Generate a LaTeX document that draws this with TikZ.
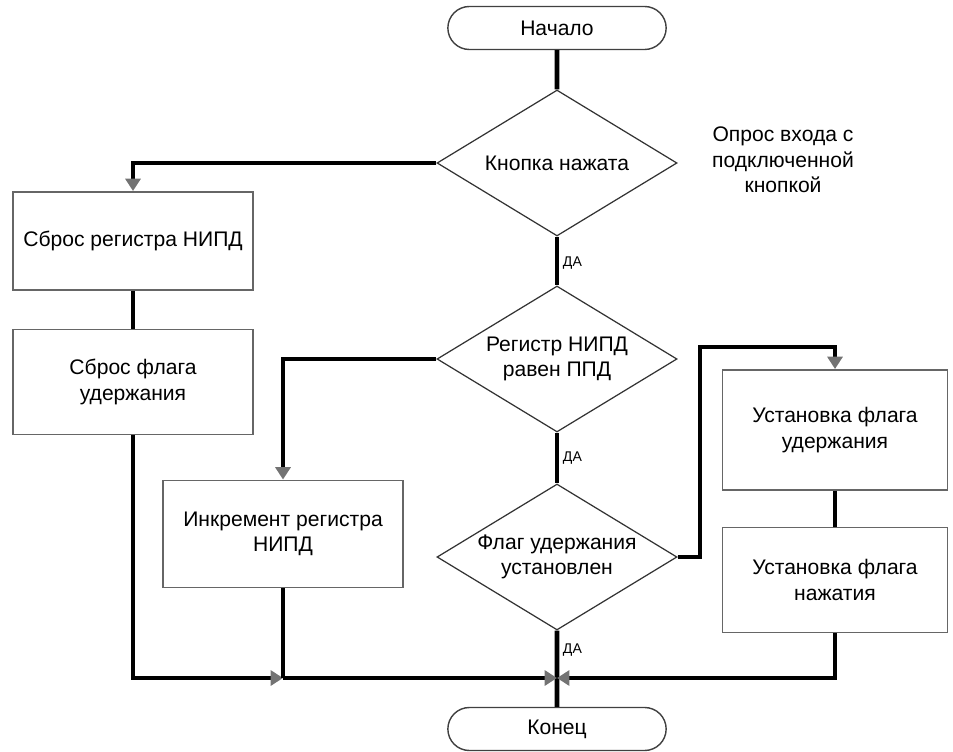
\documentclass[tikz,border=0pt]{standalone}
\usepackage{fontspec}
\setmainfont{Liberation Sans}
\usetikzlibrary{shapes.geometric,shapes.misc,arrows.meta}

\begin{document}
\begin{tikzpicture}[x=0.2mm,y=-0.2mm,
    every node/.style={font=\fontsize{12}{14.5}\selectfont, align=center},
    terminal/.style={draw=black!75, line width=0.8pt, rounded rectangle,
        minimum width=46mm, minimum height=8.6mm},
    bloc/.style={draw=black!60, line width=1.1pt, minimum width=48mm, minimum height=19.6mm},
    test/.style={draw=black!80, line width=0.7pt, diamond, aspect=1.64, inner sep=0pt,
        minimum width=48mm, minimum height=29.2mm},
    lien/.style={line width=2.8pt},
    fleche/.style={lien, -{Triangle[length=7pt,width=8.5pt,color=black!55]}},
    oui/.style={right, font=\fontsize{8}{9.6}\selectfont, inner sep=2pt}]

    % cadre en pixels : 953 x 752
    \useasboundingbox (0,0) rectangle (953,752);

    % colonne centrale
    \node[terminal] (debut) at (557,28) {Начало};
    \node[test] (t1) at (557,163) {Кнопка нажата};
    \node[test] (t2) at (557,359) {Регистр НИПД\\равен ППД};
    \node[test] (t3) at (557,557) {Флаг удержания\\установлен};
    \node[terminal] (fin) at (557,729) {Конец};

    % blocs de gauche
    \node[bloc] (b1) at (133,241) {Сброс регистра НИПД};
    \node[bloc, minimum height=21mm] (b2) at (133,382) {Сброс флага\\удержания};
    \node[bloc, minimum height=21.4mm] (b3) at (283,534) {Инкремент регистра\\НИПД};

    % blocs de droite
    \node[bloc, minimum width=45mm, minimum height=24mm] (b4) at (835,430) {Установка флага\\удержания};
    \node[bloc, minimum width=45mm, minimum height=21mm] (b5) at (835,580) {Установка флага\\нажатия};

    \node (note) at (783,160) {Опрос входа с\\подключенной\\кнопкой};

    \coordinate (coude) at (700,347);
    \coordinate (jonction) at (557,678);
    \coordinate (j3) at (283,678);

    % liaisons
    \draw[lien] (debut) -- (t1);
    \draw[lien] (t1) -- node[oui,pos=0.55] {ДА} (t2);
    \draw[lien] (t2) -- node[oui] {ДА} (t3);
    \draw[lien] (t3) -- node[oui,pos=0.25] {ДА} (fin);

    \draw[fleche] (t1.west) -| (b1.north);
    \draw[lien] (b1) -- (b2);
    \draw[fleche] (t2.west) -| (b3.north);
    \draw[fleche] (t3.east) -| (coude) -| (b4.north);
    \draw[lien] (b4) -- (b5);

    % retour vers la fin
    \draw[fleche] (b2.south) |- (j3);
    \draw[lien] (b3.south) -- (j3);
    \draw[fleche] (j3) -- (jonction);
    \draw[fleche] (b5.south) |- (jonction);
\end{tikzpicture}
\end{document}
